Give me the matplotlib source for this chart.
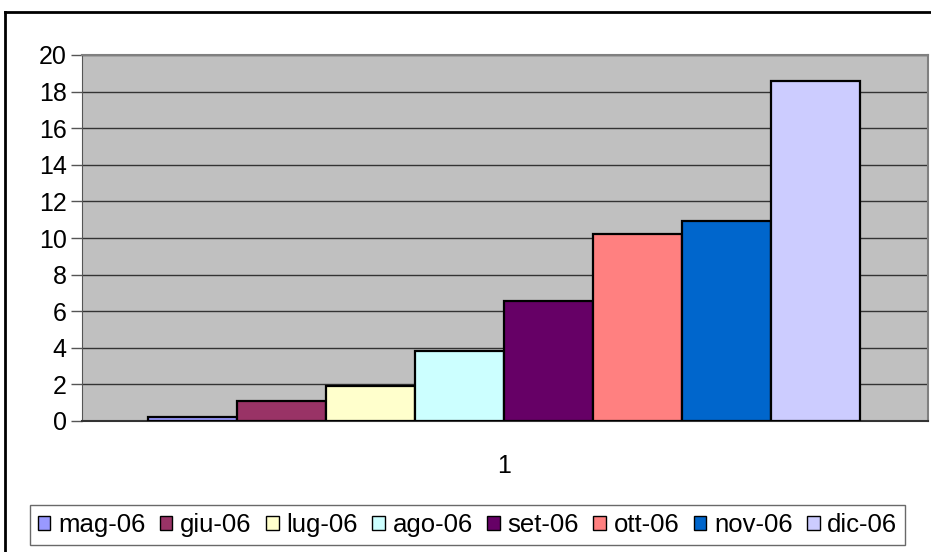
import matplotlib
matplotlib.use("Agg")
import matplotlib.pyplot as plt
from matplotlib.patches import Patch
from matplotlib.lines import Line2D

plt.rcParams['font.family'] = ['Liberation Sans', 'DejaVu Sans']

months = ["mag-06", "giu-06", "lug-06", "ago-06", "set-06", "ott-06", "nov-06", "dic-06"]
values = [0.22, 1.1, 1.9, 3.8, 6.55, 10.2, 10.95, 18.6]
colors = ["#9999FF", "#993366", "#FFFFCC", "#CCFFFF", "#660066", "#FF8080", "#0066CC", "#CCCCFF"]
yticks = [0, 2, 4, 6, 8, 10, 12, 14, 16, 18, 20]
category = "1"

W, H = 931, 552
fig = plt.figure(figsize=(W / 100, H / 100), dpi=100)

def fx(px):
    return px / W

def fy(py):
    return 1 - py / H

ax = fig.add_axes([fx(82), fy(421), fx(928) - fx(82), fy(55) - fy(421)])
ax.set_facecolor("#C0C0C0")

for i, (v, c) in enumerate(zip(values, colors)):
    ax.bar(i, v, width=1.0, color=c, edgecolor="black", linewidth=1.6, zorder=3)

ax.set_xlim(-1.24, 8.26)
ax.set_ylim(0, 20)
ax.set_yticks(yticks)
ax.set_yticklabels([str(t) for t in yticks], fontsize=18)
ax.yaxis.grid(True, color="#333333", linewidth=1.0, zorder=1)
ax.set_axisbelow(True)
ax.tick_params(axis='y', length=8, width=1, color="#555555", pad=3)
ax.set_xticks([3.5])
ax.set_xticklabels([category], fontsize=18)
ax.tick_params(axis='x', length=0, pad=24)
for s in ["top", "right"]:
    ax.spines[s].set_color("#808080")
    ax.spines[s].set_linewidth(1.5)
ax.spines["left"].set_color("#555555")
ax.spines["bottom"].set_color("#333333")
ax.spines["bottom"].set_linewidth(1.5)

handles = [Patch(facecolor=c, edgecolor="black", linewidth=1) for c in colors]
leg = fig.legend(handles, months, loc="center", ncol=8,
                 bbox_to_anchor=((fx(25) + fx(910)) / 2, (fy(503) + fy(547)) / 2),
                 fontsize=18.5, frameon=True, fancybox=False, edgecolor="#444444",
                 handlelength=0.5, handleheight=0.5, handletextpad=0.3,
                 columnspacing=0.55, borderpad=0.3, borderaxespad=0)
leg.get_frame().set_linewidth(1.0)

# outer chart frame
fig.add_artist(Line2D([fx(5), fx(5)], [fy(12), 0], color="black", linewidth=2, transform=fig.transFigure))
fig.add_artist(Line2D([fx(5), 1], [fy(12), fy(12)], color="black", linewidth=2, transform=fig.transFigure))

fig.savefig("out.png", dpi=100)
